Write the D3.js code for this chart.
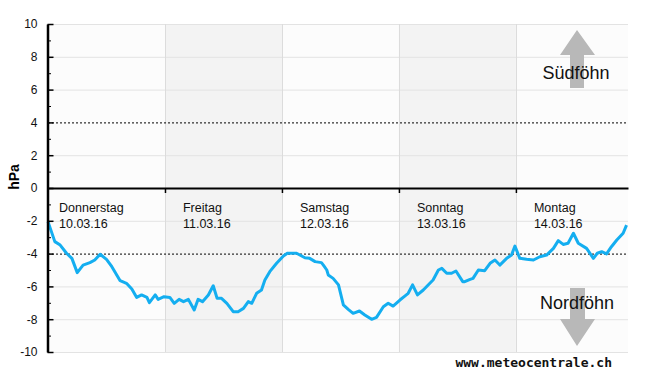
<!DOCTYPE html>
<html>
<head>
<meta charset="utf-8">
<script src="https://cdn.jsdelivr.net/npm/d3@7"></script>
<style>
  body { margin: 0; background: #fff; }
  svg { display: block; font-family: "Liberation Sans", Arial, sans-serif; }
</style>
</head>
<body>
<svg id="chart" width="650" height="375"></svg>
<script>
// hours since 10.03.16 00:00 and pressure difference (hPa)
const hours = [0, 1.4, 2.5, 3.8, 4.9, 6.0, 7.2, 8.6, 9.6, 10.7, 12.0, 13.1, 14.8, 16.1, 17.2, 18.2, 19.2, 20.3, 20.8, 22.0, 22.6, 23.8,
  25.0, 25.9, 26.9, 27.8, 28.8, 30.0, 30.8, 31.7, 32.9, 33.9, 34.7, 35.6, 36.7, 38.0, 39.0, 40.1, 41.1, 41.8, 42.8, 43.8, 44.5, 45.5, 46.9,
  48.3, 49.1, 51.0, 52.7, 53.7, 54.8, 56.1, 56.5, 57.2, 57.5, 58.5, 59.6, 60.6, 61.6, 62.6, 63.9, 65.0, 66.4, 67.4, 68.8, 69.8, 70.8,
  72.2, 73.2, 73.9, 74.8, 75.8, 77.0, 78.0, 79.0, 80.1, 80.8, 81.8, 82.8, 83.7, 85.1, 85.5, 86.6, 87.2, 88.3, 89.6, 90.7, 91.7, 92.7, 94.1, 95.1,
  95.8, 96.8, 98.2, 99.6, 100.9, 102.3, 103.7, 104.7, 105.7, 106.7, 107.8, 108.8, 110.5, 111.9, 112.7, 113.6, 114.6, 115.6, 116.7, 118.0, 118.7];
const hpa = [-2.05, -3.27, -3.48, -3.98, -4.29, -5.16, -4.70, -4.55, -4.39, -4.04, -4.35, -4.80, -5.65, -5.81, -6.16, -6.67, -6.52, -6.67, -6.99, -6.52, -6.79, -6.63,
  -6.67, -7.03, -6.79, -6.93, -6.79, -7.44, -6.79, -6.93, -6.52, -5.96, -6.73, -6.73, -7.03, -7.54, -7.54, -7.34, -6.93, -7.03, -6.42, -6.22, -5.61, -5.10, -4.59,
  -4.15, -3.98, -3.98, -4.25, -4.29, -4.49, -4.55, -4.70, -5.00, -5.30, -5.51, -5.91, -7.13, -7.40, -7.64, -7.50, -7.74, -8.01, -7.89, -7.24, -7.03, -7.20,
  -6.83, -6.59, -6.42, -5.91, -6.52, -6.22, -5.91, -5.61, -5.00, -4.90, -5.20, -5.20, -5.06, -5.71, -5.71, -5.57, -5.51, -5.00, -5.04, -4.59, -4.39, -4.70, -4.29, -4.09,
  -3.54, -4.29, -4.35, -4.39, -4.19, -4.09, -3.68, -3.21, -3.44, -3.37, -2.76, -3.37, -3.68, -4.29, -3.98, -3.88, -4.02, -3.58, -3.17, -2.76, -2.26];

const dayNames = ["Donnerstag", "Freitag", "Samstag", "Sonntag", "Montag"];
const dayDates = ["10.03.16", "11.03.16", "12.03.16", "13.03.16", "14.03.16"];
const shadedDays = [1, 3];
const yTicks = [-10, -8, -6, -4, -2, 0, 2, 4, 6, 8, 10];
const yMinor = d3.range(-9, 10, 2);
const thresholds = [4, -4];

const svg = d3.select("#chart");
const x = d3.scaleLinear().domain([0, 119]).range([48, 628]);
const y = d3.scaleLinear().domain([-10, 10]).range([352, 24]);
const dayStarts = dayNames.map((d, i) => i * 24);

// background
svg.append("rect").attr("x", x(0)).attr("y", y(10)).attr("width", x(119) - x(0)).attr("height", y(-10) - y(10)).attr("fill", "#fcfcfc");
svg.selectAll(".band").data(shadedDays).enter().append("rect")
  .attr("x", d => x(d * 24)).attr("y", y(10))
  .attr("width", d => x(d * 24 + 24) - x(d * 24)).attr("height", y(-10) - y(10))
  .attr("fill", "#f3f3f3");

// grid
svg.selectAll(".hgrid").data(yTicks.filter(v => v !== 0 && !thresholds.includes(v))).enter().append("line")
  .attr("x1", x(0)).attr("x2", x(119)).attr("y1", d => y(d) + 0.5).attr("y2", d => y(d) + 0.5)
  .attr("stroke", "#e3e3e3");
svg.selectAll(".vgrid").data(dayStarts.slice(1)).enter().append("line")
  .attr("x1", d => Math.round(x(d)) + 0.5).attr("x2", d => Math.round(x(d)) + 0.5)
  .attr("y1", y(10)).attr("y2", y(-10))
  .attr("stroke", "#dcdcdc");

// threshold lines
svg.selectAll(".thr").data(thresholds).enter().append("line")
  .attr("x1", x(0)).attr("x2", x(119)).attr("y1", d => y(d) + 0.5).attr("y2", d => y(d) + 0.5)
  .attr("stroke", "#000").attr("stroke-dasharray", "2,2");

// arrows
const arrowFill = "#b8b8b8";
svg.append("path")
  .attr("d", `M577,30 L595,55 L584,55 L584,88 L570,88 L570,55 L560,55 Z`)
  .attr("fill", arrowFill);
svg.append("path")
  .attr("d", `M570,288 L585,288 L585,319 L595,319 L577,346 L560,319 L570,319 Z`)
  .attr("fill", arrowFill);
svg.append("text").attr("x", 576).attr("y", 79).attr("text-anchor", "middle")
  .attr("font-size", 18).attr("fill", "#111").text("Südföhn");
svg.append("text").attr("x", 577).attr("y", 309).attr("text-anchor", "middle")
  .attr("font-size", 18).attr("fill", "#111").text("Nordföhn");

// day labels
const labels = svg.selectAll(".day").data(dayNames).enter().append("text")
  .attr("x", (d, i) => x(i * 24) + (i === 0 ? 11 : 18))
  .attr("font-size", 12.5).attr("fill", "#111");
labels.append("tspan").attr("y", 212).text(d => d);
labels.append("tspan").attr("x", (d, i) => x(i * 24) + (i === 0 ? 11 : 18)).attr("y", 228).text((d, i) => dayDates[i]);

// line
const line = d3.line().x(d => x(d[0])).y(d => y(d[1]));
svg.append("path").datum(hours.map((h, i) => [h, hpa[i]]))
  .attr("d", line).attr("fill", "none")
  .attr("stroke", "#14aef0").attr("stroke-width", 3).attr("stroke-linejoin", "round");

// x axis at zero
const xAxis = svg.append("g").attr("transform", `translate(0,${y(0)})`)
  .call(d3.axisBottom(x).tickValues(dayStarts.slice(1)).tickSize(5).tickSizeOuter(0).tickFormat(""));
xAxis.select(".domain").attr("stroke-width", 2);
xAxis.selectAll(".tick line").attr("stroke-width", 1.5);

// y axis
svg.append("g").attr("transform", `translate(${x(0)},0)`)
  .call(d3.axisLeft(y).tickValues(yMinor).tickSize(-3).tickFormat(""))
  .call(g => g.select(".domain").remove());
const yAxis = svg.append("g").attr("transform", `translate(${x(0) - 0.5},0)`)
  .call(d3.axisLeft(y).tickValues(yTicks).tickSize(-6).tickSizeOuter(0).tickPadding(10).tickFormat(d => String(d)));
yAxis.select(".domain").attr("stroke-width", 2.5);
yAxis.selectAll(".tick line").attr("stroke-width", 1.5);
yAxis.selectAll("text").attr("font-size", 12).attr("fill", "#111")
  .attr("font-family", "'Liberation Sans', Arial, sans-serif");

svg.append("text").attr("transform", `translate(19,177) rotate(-90)`)
  .attr("text-anchor", "middle").attr("font-size", 14).attr("font-weight", "bold").text("hPa");

// watermark
svg.append("text").attr("x", 612).attr("y", 367).attr("text-anchor", "end")
  .attr("font-family", "'DejaVu Sans Mono', monospace").attr("font-weight", "bold")
  .attr("font-size", 13).attr("fill", "#111").text("www.meteocentrale.ch");
</script>
</body>
</html>
